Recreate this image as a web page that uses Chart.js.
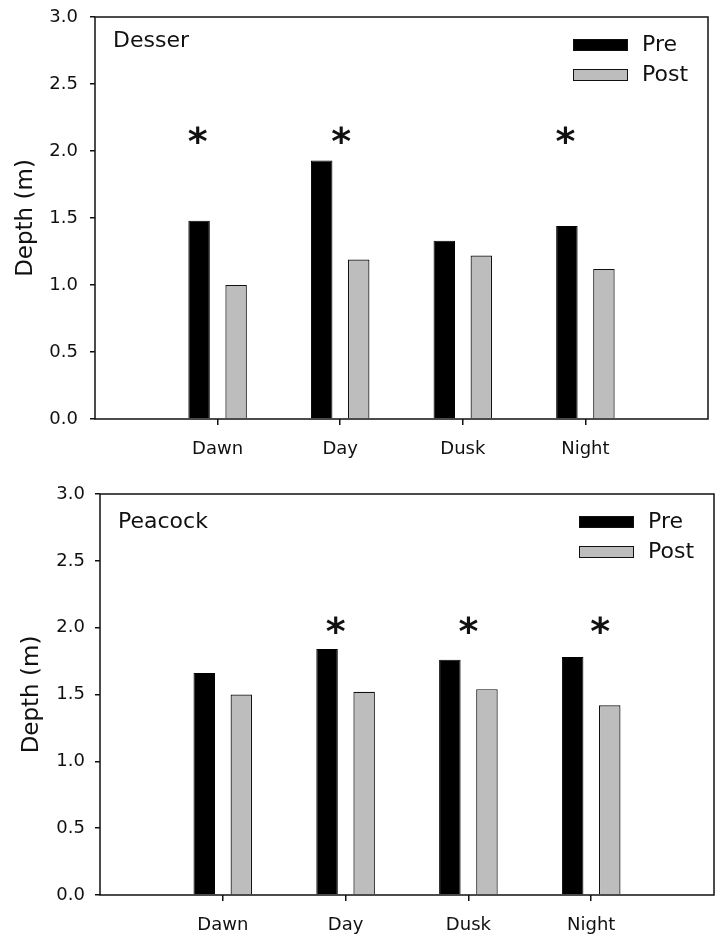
<!DOCTYPE html>
<html>
<head>
<meta charset="utf-8">
<script src="https://cdn.jsdelivr.net/npm/chart.js@4.4.1/dist/chart.umd.min.js"></script>
<style>
  body { margin: 0; background: #fff; }
  .panel { position: absolute; left: 0; width: 720px; }
  #top { top: 0; height: 467px; }
  #bottom { top: 467px; height: 468px; }
</style>
</head>
<body>
<div class="panel" id="top"><canvas id="chartDesser"></canvas></div>
<div class="panel" id="bottom"><canvas id="chartPeacock"></canvas></div>
<script>
// categorias
const categories = ['Dawn', 'Day', 'Dusk', 'Night'];

// profundidade media (m)
const desserPre = [1.48, 1.93, 1.33, 1.44];
const desserPost = [1.00, 1.19, 1.22, 1.12];
const peacockPre = [1.66, 1.84, 1.76, 1.78];
const peacockPost = [1.50, 1.52, 1.54, 1.42];

// diferencas significativas (*)
const desserStars = [true, true, false, true];
const peacockStars = [false, true, true, true];

const yTicks = [0, 0.5, 1.0, 1.5, 2.0, 2.5, 3.0];

const FONT = 'DejaVu Sans';
const INK = '#111';

// moldura em volta da area do grafico
const boxPlugin = {
    id: 'box',
    afterDraw(chart) {
        const a = chart.chartArea;
        const ctx = chart.ctx;
        ctx.save();
        ctx.strokeStyle = INK;
        ctx.lineWidth = 1.5;
        ctx.strokeRect(a.left, a.top, a.right - a.left, a.bottom - a.top);
        ctx.restore();
    }
};

// nome do lago, legenda e asteriscos
const notesPlugin = {
    id: 'notes',
    afterDatasetsDraw(chart, args, opts) {
        const a = chart.chartArea;
        const ctx = chart.ctx;
        ctx.save();
        ctx.fillStyle = INK;
        ctx.textBaseline = 'middle';
        ctx.textAlign = 'left';
        ctx.font = '22px "' + FONT + '"';
        ctx.fillText(opts.name, a.left + 18, a.top + opts.nameDy);

        // legenda
        chart.data.datasets.forEach((ds, i) => {
            const x = a.right - 135;
            const y = a.top + 22 + i * 30;
            ctx.fillStyle = ds.backgroundColor;
            ctx.fillRect(x, y, 55, 12);
            ctx.strokeStyle = INK;
            ctx.lineWidth = 1;
            ctx.strokeRect(x + 0.5, y + 0.5, 54, 11);
            ctx.fillStyle = INK;
            ctx.font = '22px "' + FONT + '"';
            ctx.fillText(ds.label, x + 69, y + 6);
        });

        // asteriscos
        const xs = chart.scales.x;
        const ys = chart.scales.y;
        ctx.font = 'bold 38px "' + FONT + '"';
        ctx.textAlign = 'center';
        ctx.textBaseline = 'alphabetic';
        opts.stars.forEach((s, i) => {
            if (!s) return;
            const x = xs.getPixelForValue(i + 1) + opts.starShift[i];
            const y = ys.getPixelForValue(opts.starLevel);
            ctx.fillText('*', x, y + 16);
        });
        ctx.restore();
    }
};

function makeChart(id, name, pre, post, stars, g) {
    const labels = [''].concat(categories, ['']);
    const pad = arr => [null].concat(arr, [null]);
    return new Chart(document.getElementById(id), {
        type: 'bar',
        data: {
            labels: labels,
            datasets: [{
                label: 'Pre',
                data: pad(pre),
                backgroundColor: '#000000',
                borderColor: '#000000',
                borderWidth: 1,
                categoryPercentage: 0.604,
                barPercentage: 0.58
            }, {
                label: 'Post',
                data: pad(post),
                backgroundColor: '#bdbdbd',
                borderColor: INK,
                borderWidth: 1.2,
                categoryPercentage: 0.604,
                barPercentage: 0.58
            }]
        },
        options: {
            responsive: true,
            maintainAspectRatio: false,
            animation: false,
            devicePixelRatio: 1,
            layout: { padding: { left: 0, top: g.top, right: g.right, bottom: 0 } },
            scales: {
                x: {
                    type: 'category',
                    offset: false,
                    border: { display: false },
                    grid: {
                        offset: false,
                        drawOnChartArea: false,
                        tickLength: 6,
                        lineWidth: 1.5,
                        color: c => (c.index === 0 || c.index === labels.length - 1) ? 'rgba(0,0,0,0)' : INK
                    },
                    ticks: {
                        color: INK,
                        autoSkip: false,
                        maxRotation: 0,
                        padding: 14,
                        font: { family: FONT, size: 18 }
                    },
                    afterFit: s => {
                        s.height = g.xHeight;
                        s.paddingLeft = 0;
                        s.paddingRight = 0;
                    }
                },
                y: {
                    min: 0,
                    max: 3,
                    border: { display: false },
                    afterBuildTicks: s => { s.ticks = yTicks.map(v => ({ value: v })); },
                    grid: {
                        drawOnChartArea: false,
                        tickLength: 5,
                        lineWidth: 1.5,
                        color: INK
                    },
                    ticks: {
                        color: INK,
                        padding: g.tickPad,
                        font: { family: FONT, size: 18 },
                        callback: v => Number(v).toFixed(1)
                    },
                    title: {
                        display: true,
                        text: 'Depth (m)',
                        color: INK,
                        font: { family: FONT, size: 23 },
                        padding: { top: g.titlePad, bottom: 0 }
                    },
                    afterFit: s => {
                        s.width = g.left;
                        s.paddingTop = 0;
                        s.paddingBottom = 0;
                    }
                }
            },
            plugins: {
                legend: { display: false },
                tooltip: { enabled: false },
                notes: {
                    name: name,
                    nameDy: g.nameDy,
                    stars: stars,
                    starLevel: g.starLevel,
                    starShift: g.starShift
                }
            }
        },
        plugins: [boxPlugin, notesPlugin]
    });
}

makeChart('chartDesser', 'Desser', desserPre, desserPost, desserStars, {
    left: 95, top: 17, right: 12, xHeight: 48, tickPad: 12, titlePad: 12, nameDy: 24,
    starLevel: 2.10, starShift: [-20, 1, 0, -20]
});

makeChart('chartPeacock', 'Peacock', peacockPre, peacockPost, peacockStars, {
    left: 100, top: 27, right: 6, xHeight: 40, tickPad: 10, titlePad: 18, nameDy: 28,
    starLevel: 2.0, starShift: [0, -10, 0, 9]
});
</script>
</body>
</html>
